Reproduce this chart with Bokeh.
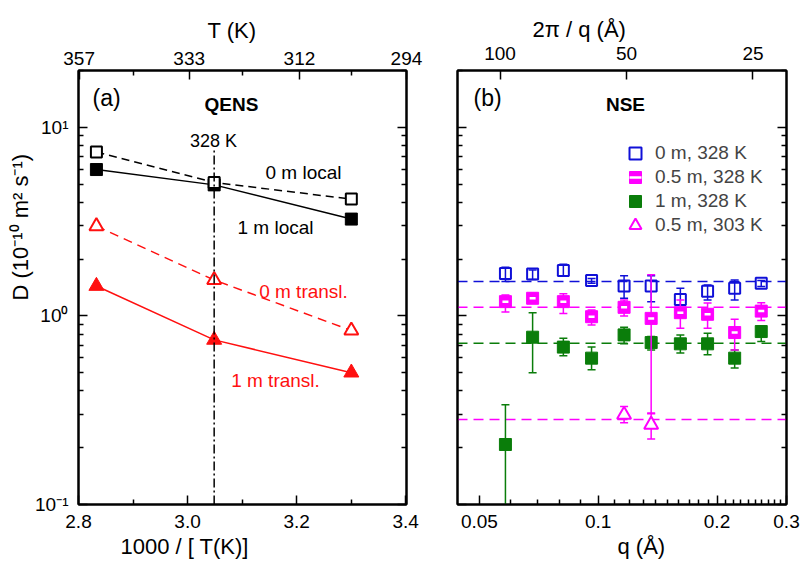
import math
from bokeh.plotting import figure
from bokeh.models import (Range1d, LinearAxis, LogAxis, FixedTicker, Label, Span, Title,
                          Legend, LegendItem, LogScale)
from bokeh.layouts import row
from bokeh.embed import file_html
from bokeh.resources import INLINE

# ---------------- data: panel (a) QENS ----------------
qens_T = [353, 328, 303]                 # temperature (K)
d_0m_local = [7.4, 5.1, 4.16]
d_1m_local = [5.97, 4.95, 3.26]
d_0m_transl = [2.99, 1.55, 0.836]
d_1m_transl = [1.44, 0.746, 0.50]
marked_T = 328
invT_ticks = [2.8, 3.0, 3.2, 3.4]
invT_tick_labels = ["2.8", "3.0", "3.2", "3.4"]
invT_minor = [2.9, 3.1, 3.3]
T_top_labels = [357, 333, 312, 294]

# ---------------- data: panel (b) NSE ----------------
q = [0.0582, 0.0682, 0.0816, 0.0962, 0.1163, 0.1362, 0.1615, 0.1893, 0.2217, 0.2589]
d_0m_328 = [1.68, 1.67, 1.74, 1.54, 1.44, 1.44, 1.22, 1.35, 1.40, 1.49]
d_0m_328_lo = [1.52, 1.56, 1.63, 1.49, 1.24, 1.19, 1.14, 1.215, 1.215, 1.43]
d_0m_328_hi = [1.81, 1.75, 1.88, 1.58, 1.63, 1.63, 1.40, 1.46, 1.55, 1.54]
d_05m_328 = [1.19, 1.24, 1.19, 0.99, 1.11, 0.97, 1.04, 1.02, 0.816, 1.06]
d_05m_328_lo = [1.05, 1.17, 1.03, 0.896, 1.0, 0.306, 0.861, 0.861, 0.66, 0.945]
d_05m_328_hi = [1.29, 1.32, 1.31, 1.076, 1.215, 1.65, 1.215, 1.17, 0.96, 1.175]
d_1m_328 = [0.208, 0.771, 0.683, 0.597, 0.793, 0.722, 0.711, 0.711, 0.597, 0.826]
d_1m_328_lo = [0.05, 0.50, 0.614, 0.518, 0.711, 0.66, 0.635, 0.622, 0.529, 0.731]
d_1m_328_hi = [0.338, 1.04, 0.762, 0.683, 0.871, 0.777, 0.793, 0.81, 0.66, 0.885]
q_303 = [0.1163, 0.1362]
d_05m_303 = [0.299, 0.265]
d_05m_303_lo = [0.271, 0.2226]
d_05m_303_hi = [0.331, 0.303]
fit_0m_328 = 1.52
fit_05m_328 = 1.11
fit_1m_328 = 0.717
fit_05m_303 = 0.282
q_ticks = [0.05, 0.1, 0.2, 0.3]
q_tick_labels = ["0.05", "0.1", "0.2", "0.3"]
q_minor = [0.06, 0.07, 0.08, 0.09, 0.11, 0.12, 0.13, 0.14, 0.15, 0.16, 0.17, 0.18, 0.19,
           0.21, 0.22, 0.23, 0.24, 0.25, 0.26, 0.27, 0.28, 0.29]
d_top_ticks = [100, 50, 25]
D_ticks = [0.1, 1, 10]
D_tick_labels = ["10\u207b\u00b9", "10\u2070", "10\u00b9"]
D_minor = [m * 10.0 ** e for e in (-1, 0, 1) for m in range(2, 10)] + [20]
legend_labels = ["0 m, 328 K", "0.5 m, 328 K", "1 m, 328 K", "0.5 m, 303 K"]

FONT = "Liberation Sans"
BLUE = "#1010d8"
MAG = "#ff00ff"
GREEN = "#0a7d0a"
RED = "#ff1010"

invT = [1000.0 / t for t in qens_T]


def style_axis(ax, show_labels=True, standoff=8):
    ax.axis_line_width = 2
    ax.axis_line_color = "black"
    ax.major_tick_in = 9
    ax.major_tick_out = 0
    ax.minor_tick_in = 5
    ax.minor_tick_out = 0
    ax.major_tick_line_width = 1.5
    ax.minor_tick_line_width = 1.5
    ax.major_label_text_font = FONT
    ax.major_label_text_color = "black"
    if show_labels:
        ax.major_label_text_font_size = "19px"
        ax.major_label_standoff = standoff
    else:
        ax.major_label_text_font_size = "1px"
        ax.major_label_text_alpha = 0
        ax.major_label_standoff = 0


def lab(p, text, x, y, size=19, align="left", baseline="middle", style="normal",
        color="black"):
    p.add_layout(Label(x=x, y=y, x_units="screen", y_units="screen", text=text,
                       text_font=FONT, text_font_size=f"{size}px", text_align=align,
                       text_baseline=baseline, text_font_style=style, text_color=color))


def side_title(p, text, side, offset, size=22, standoff=0):
    p.add_layout(Title(text=text, align="left", offset=offset, text_font=FONT,
                       text_font_size=f"{size}px", text_font_style="normal",
                       text_color="black", standoff=standoff), side)


def y_log_ticker():
    return FixedTicker(ticks=D_ticks, minor_ticks=D_minor)


# ======================= panel (a) =======================
p1 = figure(width=428, height=564, x_range=Range1d(2.8, 3.4015), y_range=Range1d(0.1, 20),
            y_axis_type="log", output_backend="svg", toolbar_location=None,
            min_border_left=78, min_border_right=22, min_border_top=70, min_border_bottom=60)
p1.xgrid.visible = False
p1.ygrid.visible = False
p1.outline_line_color = "black"
p1.outline_line_width = 2

bx = p1.xaxis[0]
bx.ticker = FixedTicker(ticks=invT_ticks, minor_ticks=invT_minor)
bx.major_label_overrides = dict(zip(invT_ticks, invT_tick_labels))
style_axis(bx, standoff=10)
ly = p1.yaxis[0]
ly.ticker = y_log_ticker()
ly.major_label_overrides = dict(zip(D_ticks, D_tick_labels))
style_axis(ly, standoff=10)

top_ticks = [1000.0 / t for t in T_top_labels]
tx = LinearAxis(ticker=FixedTicker(ticks=top_ticks, minor_ticks=invT_minor),
                major_label_overrides={k: str(t) for k, t in zip(top_ticks, T_top_labels)})
style_axis(tx, standoff=6)
p1.add_layout(tx, "above")
ry = LogAxis(ticker=y_log_ticker())
style_axis(ry, show_labels=False)
p1.add_layout(ry, "right")

# lines
p1.line(invT, d_0m_local, line_color="black", line_width=1.5, line_dash="8 5")
p1.line(invT, d_1m_local, line_color="black", line_width=1.5)
p1.line(invT, d_0m_transl, line_color=RED, line_width=1.5, line_dash="9 6")
p1.line(invT, d_1m_transl, line_color=RED, line_width=1.5)
# markers
p1.scatter(invT, d_1m_local, marker="square", size=12, fill_color="black", line_color="black")
p1.scatter(invT, d_0m_local, marker="square", size=11, fill_color="white", line_color="black", line_width=2)
p1.scatter(invT, d_1m_transl, marker="triangle", size=15, fill_color=RED, line_color=RED)
p1.scatter(invT, d_0m_transl, marker="triangle", size=14, fill_color="white", line_color=RED, line_width=2)
# marked temperature
p1.segment(x0=[1000.0 / marked_T], y0=[0.1], x1=[1000.0 / marked_T], y1=[7.6],
           line_color="black", line_width=1.5, line_dash="9 3 2 3")

lab(p1, "(a)", 14, 407, size=23)
lab(p1, "QENS", 153, 400, size=19, align="center", style="bold")
lab(p1, f"{marked_T} K", 135, 364, size=18, align="center")
lab(p1, "0 m local", 225, 332, align="center")
lab(p1, "1 m local", 197, 277, align="center")
lab(p1, "0 m transl.", 225, 213, align="center", color=RED)
lab(p1, "1 m transl.", 197, 124, align="center", color=RED)
# axis titles
side_title(p1, "T (K)", "above", 129, standoff=12)
side_title(p1, "1000 / [ T(K)]", "below", 42, standoff=2)
side_title(p1, "D (10\u207b\u00b9\u2070 m\u00b2  s\u207b\u00b9)", "left", 204)

# ======================= panel (b) =======================
p2 = figure(width=374, height=564, x_range=Range1d(0.044, 0.3), y_range=Range1d(0.1, 20),
            x_axis_type="log", y_axis_type="log", output_backend="svg", toolbar_location=None,
            min_border_left=29, min_border_right=16, min_border_top=70, min_border_bottom=60)
p2.xgrid.visible = False
p2.ygrid.visible = False
p2.outline_line_color = "black"
p2.outline_line_width = 2
p2.extra_x_ranges = {"d": Range1d(126.3, 20.8)}
p2.extra_x_scales = {"d": LogScale()}

bx2 = p2.xaxis[0]
bx2.ticker = FixedTicker(ticks=q_ticks, minor_ticks=q_minor)
bx2.major_label_overrides = dict(zip(q_ticks, q_tick_labels))
style_axis(bx2, standoff=10)
ly2 = p2.yaxis[0]
ly2.ticker = y_log_ticker()
style_axis(ly2, show_labels=False)
tx2 = LogAxis(x_range_name="d", ticker=FixedTicker(ticks=d_top_ticks, minor_ticks=[]),
              major_label_overrides={t: str(t) for t in d_top_ticks})
style_axis(tx2, standoff=11)
p2.add_layout(tx2, "above")
ry2 = LogAxis(ticker=y_log_ticker())
style_axis(ry2, show_labels=False)
p2.add_layout(ry2, "right")

for loc, col in ((fit_0m_328, BLUE), (fit_05m_328, MAG), (fit_1m_328, GREEN), (fit_05m_303, MAG)):
    p2.add_layout(Span(location=loc, dimension="width", line_color=col, line_width=1.5,
                       line_dash="10 6", level="underlay"))


def errbars(p, x, lo, hi, color):
    p.segment(x0=x, y0=lo, x1=x, y1=hi, line_color=color, line_width=1.5)
    p.scatter(x=list(x) + list(x), y=list(lo) + list(hi), marker="dash", size=8,
              line_color=color, line_width=1.5)


errbars(p2, q, d_1m_328_lo, d_1m_328_hi, GREEN)
r_green = p2.scatter(q, d_1m_328, marker="square", size=12, fill_color=GREEN, line_color=GREEN)
errbars(p2, q, d_0m_328_lo, d_0m_328_hi, BLUE)
r_blue = p2.scatter(q, d_0m_328, marker="square", size=11, fill_color=None, line_color=BLUE, line_width=2)
errbars(p2, q, d_05m_328_lo, d_05m_328_hi, MAG)
r_mag = p2.scatter(q, d_05m_328, marker="square", size=12, fill_color=MAG, line_color=MAG)
r_mag_bar = p2.scatter(q, d_05m_328, marker="dash", size=6, line_color="white", line_width=2.5)
errbars(p2, q_303, d_05m_303_lo, d_05m_303_hi, MAG)
r_tri = p2.scatter(q_303, d_05m_303, marker="triangle", size=14, fill_color="white",
                   line_color=MAG, line_width=2)

# legend: one single-row legend per entry, stacked 24 px apart
legend_renderers = [[r_blue], [r_mag, r_mag_bar], [r_green], [r_tri]]
for i, (text, rends) in enumerate(zip(legend_labels, legend_renderers)):
    p2.add_layout(Legend(items=[LegendItem(label=text, renderers=rends)],
                         location=(163, 336 - 24 * i), glyph_width=30, glyph_height=30,
                         label_height=30, spacing=0, padding=0, margin=0, label_standoff=5,
                         border_line_color=None, background_fill_alpha=0,
                         label_text_font=FONT, label_text_font_size="19px"))

lab(p2, "(b)", 16, 407, size=23)
lab(p2, "NSE", 168, 400, size=19, align="center", style="bold")
side_title(p2, "2\u03c0 / q (\u00c5)", "above", 75, standoff=3)
side_title(p2, "q (\u00c5)", "below", 160, standoff=2)

layout = row(p1, p2)
open("out.html", "w").write(file_html(layout, INLINE))
